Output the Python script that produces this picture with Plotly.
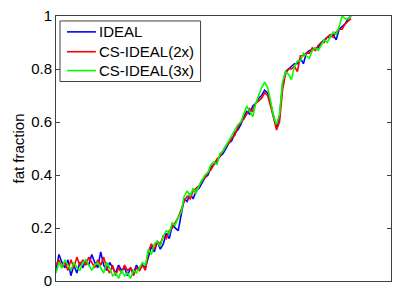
import plotly.graph_objects as go

sample_index = list(range(100))

ideal = [0.04,0.10,0.07,0.05,0.08,0.02,0.06,0.03,0.07,0.05,
         0.08,0.06,0.10,0.07,0.05,0.11,0.06,0.04,0.07,0.05,
         0.03,0.06,0.04,0.05,0.02,0.05,0.03,0.06,0.04,0.06,
         0.05,0.09,0.13,0.11,0.15,0.12,0.14,0.18,0.16,0.21,
         0.20,0.19,0.25,0.31,0.30,0.33,0.31,0.34,0.35,0.37,
         0.39,0.40,0.43,0.44,0.45,0.47,0.48,0.50,0.52,0.53,
         0.56,0.57,0.59,0.62,0.64,0.63,0.66,0.67,0.69,0.70,
         0.72,0.71,0.67,0.62,0.58,0.62,0.74,0.79,0.80,0.81,
         0.82,0.82,0.84,0.82,0.86,0.87,0.87,0.88,0.88,0.90,
         0.91,0.92,0.92,0.93,0.91,0.95,0.96,0.97,0.99,1.00]

cs_ideal_2x = [0.06,0.08,0.05,0.07,0.04,0.08,0.05,0.09,0.06,0.08,
               0.06,0.09,0.07,0.05,0.08,0.06,0.09,0.05,0.03,0.06,
               0.02,0.05,0.03,0.06,0.04,0.05,0.02,0.05,0.04,0.06,
               0.04,0.11,0.14,0.12,0.15,0.14,0.17,0.16,0.19,0.20,
               0.22,0.24,0.27,0.30,0.32,0.31,0.34,0.35,0.36,0.38,
               0.39,0.41,0.42,0.44,0.46,0.47,0.49,0.51,0.52,0.54,
               0.55,0.58,0.60,0.61,0.63,0.65,0.64,0.67,0.68,0.69,
               0.71,0.70,0.66,0.61,0.57,0.60,0.72,0.78,0.80,0.80,
               0.81,0.79,0.85,0.85,0.86,0.86,0.88,0.87,0.89,0.90,
               0.90,0.92,0.93,0.92,0.94,0.95,0.95,0.97,0.98,0.99]

cs_ideal_3x = [0.03,0.07,0.05,0.08,0.06,0.04,0.07,0.05,0.04,0.07,
               0.08,0.06,0.04,0.06,0.07,0.05,0.03,0.07,0.05,0.02,
               0.03,0.01,0.04,0.02,0.03,0.01,0.04,0.03,0.05,0.07,
               0.06,0.12,0.10,0.14,0.15,0.13,0.17,0.19,0.18,0.22,
               0.21,0.24,0.26,0.32,0.34,0.32,0.35,0.33,0.36,0.38,
               0.40,0.41,0.44,0.45,0.44,0.48,0.49,0.51,0.53,0.55,
               0.57,0.59,0.60,0.63,0.66,0.64,0.62,0.67,0.70,0.73,
               0.75,0.73,0.68,0.62,0.59,0.63,0.75,0.79,0.78,0.76,
               0.81,0.83,0.83,0.86,0.85,0.84,0.87,0.88,0.87,0.89,
               0.91,0.90,0.92,0.94,0.93,0.96,1.00,0.99,0.99,1.00]

series_names = ["IDEAL", "CS-IDEAL(2x)", "CS-IDEAL(3x)"]
series_values = [ideal, cs_ideal_2x, cs_ideal_3x]
series_colors = ["#0000ff", "#ff0000", "#00ff00"]

y_tick_vals = [0, 0.2, 0.4, 0.6, 0.8, 1]
y_tick_text = ["0", "0.2", "0.4", "0.6", "0.8", "1"]

W, H = 393, 290
ML, MR, MT, MB = 56, 1, 16, 7
PW, PH = W - ML - MR, H - MT - MB

def px_x(p):
    return (p - ML) / PW

def px_y(p):
    return (H - MB - p) / PH

fig = go.Figure()
for name, vals, col in zip(series_names, series_values, series_colors):
    fig.add_trace(go.Scatter(x=sample_index, y=vals, mode="lines", name=name,
                             line=dict(color=col, width=1.6), showlegend=False))

axis_col = "#404040"

# manual legend (box, sample lines, labels)
shapes = [dict(type="rect", xref="paper", yref="paper",
               x0=px_x(60), x1=px_x(201), y0=px_y(82), y1=px_y(21),
               line=dict(color=axis_col, width=1), fillcolor="white", layer="above")]
annotations = []
row_y = [32, 52, 71]
for name, col, ry in zip(series_names, series_colors, row_y):
    shapes.append(dict(type="line", xref="paper", yref="paper",
                       x0=px_x(67), x1=px_x(96), y0=px_y(ry), y1=px_y(ry),
                       line=dict(color=col, width=1.6), layer="above"))
    annotations.append(dict(text=name, xref="paper", yref="paper",
                            x=px_x(97), y=px_y(ry), xanchor="left", yanchor="middle",
                            showarrow=False, font=dict(size=15, color="black")))

fig.update_layout(
    width=W, height=H,
    margin=dict(l=ML, r=MR, t=MT, b=MB),
    paper_bgcolor="white", plot_bgcolor="white",
    font=dict(family="Liberation Sans, Arial, sans-serif", size=15, color="black"),
    showlegend=False,
    shapes=shapes, annotations=annotations,
    xaxis=dict(range=[0, 112.4], showticklabels=False, ticks="",
               showgrid=False, zeroline=False, showline=True,
               linecolor=axis_col, linewidth=1, mirror=True),
    yaxis=dict(range=[0, 1], tickvals=y_tick_vals, ticktext=y_tick_text,
               ticks="inside", ticklen=4, tickcolor=axis_col,
               ticklabeloverflow="allow",
               showgrid=False, zeroline=False, showline=True,
               linecolor=axis_col, linewidth=1, mirror="ticks",
               title=dict(text="fat fraction", standoff=2, font=dict(size=15))),
)
fig.write_html("out.html", config={"displayModeBar": False},
               post_script="document.body.style.margin='0px';document.body.style.overflow='hidden';")
